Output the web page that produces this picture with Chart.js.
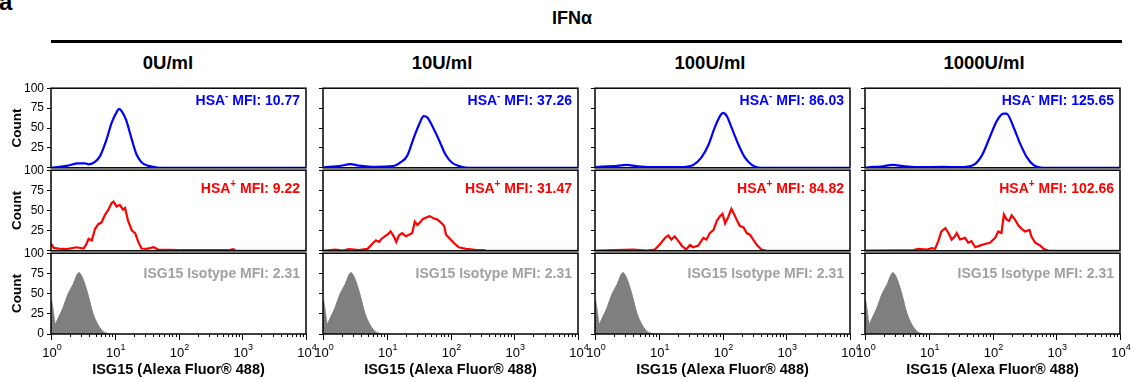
<!DOCTYPE html>
<html>
<head>
<meta charset="utf-8">
<script src="https://cdn.jsdelivr.net/npm/chart.js@4/dist/chart.umd.min.js"></script>
<style>
  html, body { margin: 0; padding: 0; background: #fff; }
  body { width: 1135px; height: 383px; position: relative; overflow: hidden;
         font-family: "Liberation Sans", Arial, sans-serif; }
  .txt { position: absolute; font-weight: bold; color: #000; white-space: nowrap; }
  .mid { transform: translate(-50%, -50%); }
  canvas { position: absolute; }
</style>
</head>
<body>
<div class="txt" style="left:-1px;top:-12px;font-size:24px">a</div>
<div class="txt mid" style="left:572px;top:18px;font-size:18px">IFNα</div>
<div style="position:absolute;left:51px;top:40px;width:1071px;height:3px;background:#000"></div>

<script>
/* global Chart */

// 1. Data
const doses      = ['0U/ml', '10U/ml', '100U/ml', '1000U/ml'];
const hsaNegMfi  = ['10.77', '37.26', '86.03', '125.65'];
const hsaPosMfi  = ['9.22', '31.47', '84.82', '102.66'];
const isotypeMfi = '2.31';

const yTicks   = [0, 25, 50, 75, 100];
const xTicks   = [1, 2, 3, 4, 5, 6, 7, 8, 9,
                  10, 20, 30, 40, 50, 60, 70, 80, 90,
                  100, 200, 300, 400, 500, 600, 700, 800, 900,
                  1000, 2000, 3000, 4000, 5000, 6000, 7000, 8000, 9000, 10000];
const xMajor   = [1, 10, 100, 1000, 10000];
const xMajorExp = ['0', '1', '2', '3', '4'];

// histograms as [fluorescence, count]
const hsaNeg0 = [[1,0],[1.1,0.4],[1.76,2.4],[2.7,5.6],[3.4,5.6],[3.9,4.4],[4.9,7.3],[5.9,15],[7.4,35],[8.9,56],
  [10.7,70],[11.7,74],[12.9,71],[15.1,60],[18.6,35],[21.9,17],[26.3,7],[33.9,2.4],[45.7,0.4],[60,0],[10000,0]];
const hsaNeg10 = [[1,0],[1.1,0.8],[1.78,2],[2.7,4.5],[3.6,2.8],[6.8,1.2],[12.3,2],[16.6,7],[20.9,15],[26.9,39],
  [32.4,55],[38,65],[43.7,63],[51.3,53],[66,35],[83,17],[107,6],[145,1.6],[195,0],[10000,0]];
const hsaNeg100 = [[1,0],[1.07,0.8],[1.95,2],[3.16,3.6],[4.47,2],[7.2,0.8],[21.4,0.8],[34.7,3.6],[46.8,13],[60.3,29],
  [75.9,51],[91.2,65],[102,69],[117,65],[138,51],[178,29],[224,13],[288,3.6],[363,0.4],[450,0],[10000,0]];
const hsaNeg1000 = [[1,0],[1.07,0.4],[1.74,1.6],[2.75,3.6],[3.98,2],[6.46,0.8],[17,1.2],[30.9,0.8],[50.1,3.6],[67.6,15],
  [91.2,39],[117,59],[148,68],[166,68],[214,51],[269,31],[347,13],[437,3.6],[562,0.4],[700,0],[10000,0]];

const hsaPos0 = [[1,8.8],[1.1,3.6],[1.32,2.8],[1.78,2],[2.51,4.4],[3.24,2.8],[3.55,7.6],[3.89,14.9],[4.37,12.9],[4.9,27],
  [5.5,33],[6.17,35],[7.08,45],[7.94,51],[8.91,59],[9.55,61],[10.7,55],[12,57],[13.5,51],[14.5,53],[16.2,37],[18.6,25],
  [20.9,22],[23.4,11],[26.3,2.8],[31.6,2.4],[40.7,4.4],[47.9,1.6],[105,0.8],[646,1.2],[724,2],[776,0.4],[850,0],[10000,0]];
const hsaPos10 = [[1,0.4],[1.05,0.4],[1.58,1.6],[2,0.4],[2.57,2],[3.63,0.8],[5.01,2.4],[5.89,8.4],[6.76,13],[7.59,11],
  [8.32,15],[10.2,20],[11.5,24],[12.9,18],[14.1,11],[15.5,19],[17.4,22],[20,18],[22.4,20],[25.1,22],[27.5,36],[30.2,32],
  [33.1,35],[36.3,39],[40.7,41],[46.8,43],[55,40],[61.7,39],[70.8,35],[79.4,31],[85.1,20],[95.5,16],[112,10],[135,4.4],
  [174,2.4],[245,1.2],[339,0.8],[355,0],[10000,0]];
const hsaPos100 = [[1,0.4],[1.07,0.4],[3.98,1.6],[6.46,0.4],[8.71,1.6],[10.5,8.4],[12.6,16],[14.1,19],[15.8,14],[17.8,18],
  [20.4,12],[22.9,6.4],[26.9,1.6],[30.9,7.2],[34.7,4.4],[41.7,6.4],[50.1,16],[56.2,14],[63.1,22],[72.4,26],[81.3,37],
  [91.2,43],[100,46],[110,34],[123,42],[138,52],[151,46],[166,39],[186,31],[214,29],[240,22],[269,20],[302,14],[347,7],
  [407,1.6],[490,0],[10000,0]];
const hsaPos1000 = [[1,0.4],[1.07,0.4],[5.75,0.8],[6.92,2.4],[9.33,1.6],[11.2,3.2],[12.6,2.4],[14.1,12],[15.8,24],[18.2,28],
  [20.4,22],[22.9,14],[25.7,18],[27.5,22],[30.9,14],[37.2,16],[41.7,10],[46.8,12],[53.7,4.4],[63.1,6.4],[75.9,8.4],
  [91.2,10],[110,16],[123,24],[138,22],[151,45],[166,39],[182,37],[200,44],[224,39],[257,31],[288,27],[324,24],[380,26],
  [407,18],[468,10],[562,6.4],[631,2.4],[759,0],[10000,0]];

const isotype = [[1,0],[1.01,42],[1.1,25],[1.16,13],[1.32,21],[1.55,33],[1.86,50],[2.24,62],[2.51,72],[2.75,76],
  [3.02,72],[3.39,62],[3.89,46],[4.57,25],[5.5,11],[6.61,2.9],[7.8,0.5],[8.51,0]];

const hsaNeg = [hsaNeg0, hsaNeg10, hsaNeg100, hsaNeg1000];
const hsaPos = [hsaPos0, hsaPos10, hsaPos100, hsaPos1000];

// 2. Layout
const FONT      = '"Liberation Sans", Arial, sans-serif';
const PLOT_LEFT = [51, 323, 595, 865];
const PLOT_W    = 255;
const PLOT_TOP  = [87, 169, 252];
const PLOT_H    = [82, 83, 82];
const Y_AXIS_W  = 50;
const X_AXIS_H  = 50;
const PAD_T = 9, PAD_B = 9, PAD_R = 14;
const TITLE_X   = [168, 442, 710, 984];

Chart.defaults.font.family = FONT;
Chart.defaults.animation = false;
Chart.defaults.color = '#000';

doses.forEach((d, i) => {
  const el = document.createElement('div');
  el.className = 'txt mid';
  el.style.cssText = `left:${TITLE_X[i]}px;top:63px;font-size:18.5px`;
  el.textContent = d;
  document.body.appendChild(el);
});

// 3. Plugins
const framePlugin = (note) => ({
  id: 'frameNote',
  afterDatasetsDraw(chart) {
    const { ctx, chartArea: a } = chart;
    ctx.save();
    ctx.strokeStyle = '#000';
    ctx.lineWidth = 1.5;
    ctx.strokeRect(a.left, a.top, a.right - a.left, a.bottom - a.top);
    const widths = note.parts.map(p => {
      ctx.font = `bold ${p.size}px ${FONT}`;
      return ctx.measureText(p.text).width;
    });
    let x = a.right - 6 - widths.reduce((s, w) => s + w, 0);
    ctx.fillStyle = note.color;
    ctx.textAlign = 'left';
    ctx.textBaseline = 'alphabetic';
    note.parts.forEach((p, i) => {
      ctx.font = `bold ${p.size}px ${FONT}`;
      ctx.fillText(p.text, x, a.top + note.baseline - (p.rise || 0));
      x += widths[i];
    });
    ctx.restore();
  }
});

const logAxisPlugin = {
  id: 'logAxis',
  afterDraw(chart) {
    const s = chart.scales.x, ctx = chart.ctx, y0 = chart.chartArea.bottom;
    ctx.save();
    ctx.strokeStyle = '#000';
    ctx.lineWidth = 1;
    s.ticks.forEach(t => {
      const x = Math.round(s.getPixelForValue(t.value)) + 0.5;
      ctx.beginPath();
      ctx.moveTo(x, y0);
      ctx.lineTo(x, y0 + (t.major ? 6 : 3));
      ctx.stroke();
    });
    ctx.fillStyle = '#000';
    ctx.textAlign = 'left';
    ctx.textBaseline = 'alphabetic';
    xMajor.forEach((v, i) => {
      const x = s.getPixelForValue(v);
      ctx.font = `13px ${FONT}`;
      const w1 = ctx.measureText('10').width;
      ctx.font = `9px ${FONT}`;
      const w2 = ctx.measureText(xMajorExp[i]).width;
      const x0 = x - (w1 + w2) / 2 + 1;
      ctx.font = `13px ${FONT}`;
      ctx.fillText('10', x0, y0 + 23);
      ctx.font = `9px ${FONT}`;
      ctx.fillText(xMajorExp[i], x0 + w1, y0 + 16);
    });
    ctx.restore();
  }
};

// 4. Panels
const toXY = arr => arr.map(([x, y]) => ({ x, y }));

function makePanel(col, row) {
  const bottomRow = row === 2;
  const cv = document.createElement('canvas');
  cv.width  = Y_AXIS_W + PLOT_W + PAD_R;
  cv.height = PAD_T + PLOT_H[row] + (bottomRow ? X_AXIS_H : PAD_B);
  cv.style.left = (PLOT_LEFT[col] - Y_AXIS_W) + 'px';
  cv.style.top  = (PLOT_TOP[row] - PAD_T) + 'px';
  document.body.appendChild(cv);

  let dataset, note;
  if (row === 0) {
    dataset = { data: toXY(hsaNeg[col]), borderColor: '#0000ff', borderWidth: 2.2,
                cubicInterpolationMode: 'monotone', fill: false };
    note = { color: '#0000ff', baseline: 17, parts: [
      { text: 'HSA', size: 14 }, { text: '-', size: 10, rise: 6 }, { text: ' MFI: ' + hsaNegMfi[col], size: 14 }] };
  } else if (row === 1) {
    dataset = { data: toXY(hsaPos[col]), borderColor: '#ff0000', borderWidth: 2.2, tension: 0, fill: false };
    note = { color: '#ff0000', baseline: 23, parts: [
      { text: 'HSA', size: 14 }, { text: '+', size: 10, rise: 6 }, { text: ' MFI: ' + hsaPosMfi[col], size: 14 }] };
  } else {
    dataset = { data: toXY(isotype), borderColor: '#7f7f7f', backgroundColor: '#7f7f7f', borderWidth: 1,
                tension: 0.3, fill: 'origin' };
    note = { color: '#a0a0a0', baseline: 25, parts: [
      { text: 'ISG15 Isotype MFI: ' + isotypeMfi, size: 14 }] };
  }

  new Chart(cv, {
    type: 'line',
    data: { datasets: [Object.assign({ pointRadius: 0 }, dataset)] },
    options: {
      responsive: false,
      layout: { padding: { top: PAD_T, right: PAD_R, bottom: bottomRow ? 0 : PAD_B, left: 0 } },
      plugins: { legend: { display: false }, tooltip: { enabled: false } },
      scales: {
        x: {
          type: 'logarithmic', min: 1, max: 10000, display: bottomRow,
          afterBuildTicks: s => { s.ticks = xTicks.map(v => ({ value: v, major: xMajor.includes(v) })); },
          afterFit: s => { s.height = bottomRow ? X_AXIS_H : 0; },
          ticks: { display: false },
          grid: { display: false },
          border: { display: false },
          title: { display: true, text: 'ISG15 (Alexa Fluor® 488)', color: '#000',
                   font: { size: 14.5, weight: 'bold' }, padding: { top: 0, bottom: 5 } }
        },
        y: {
          type: 'linear', min: 0, max: 100,
          afterBuildTicks: s => { s.ticks = yTicks.map(v => ({ value: v })); },
          afterFit: s => { s.width = Y_AXIS_W; },
          ticks: {
            font: { size: 12 }, color: '#000', padding: 3, autoSkip: false,
            callback: v => (col === 0 && (v !== 0 || bottomRow)) ? String(v) : ''
          },
          grid: { drawOnChartArea: false, tickLength: 4, color: '#000' },
          border: { display: false },
          title: { display: col === 0, text: 'Count', color: '#000',
                   font: { size: 13.5, weight: 'bold' }, padding: { top: 8, bottom: 0 } }
        }
      }
    },
    plugins: bottomRow ? [framePlugin(note), logAxisPlugin] : [framePlugin(note)]
  });
}

for (let r = 0; r < 3; r++) {
  for (let c = 0; c < 4; c++) makePanel(c, r);
}
</script>
</body>
</html>
